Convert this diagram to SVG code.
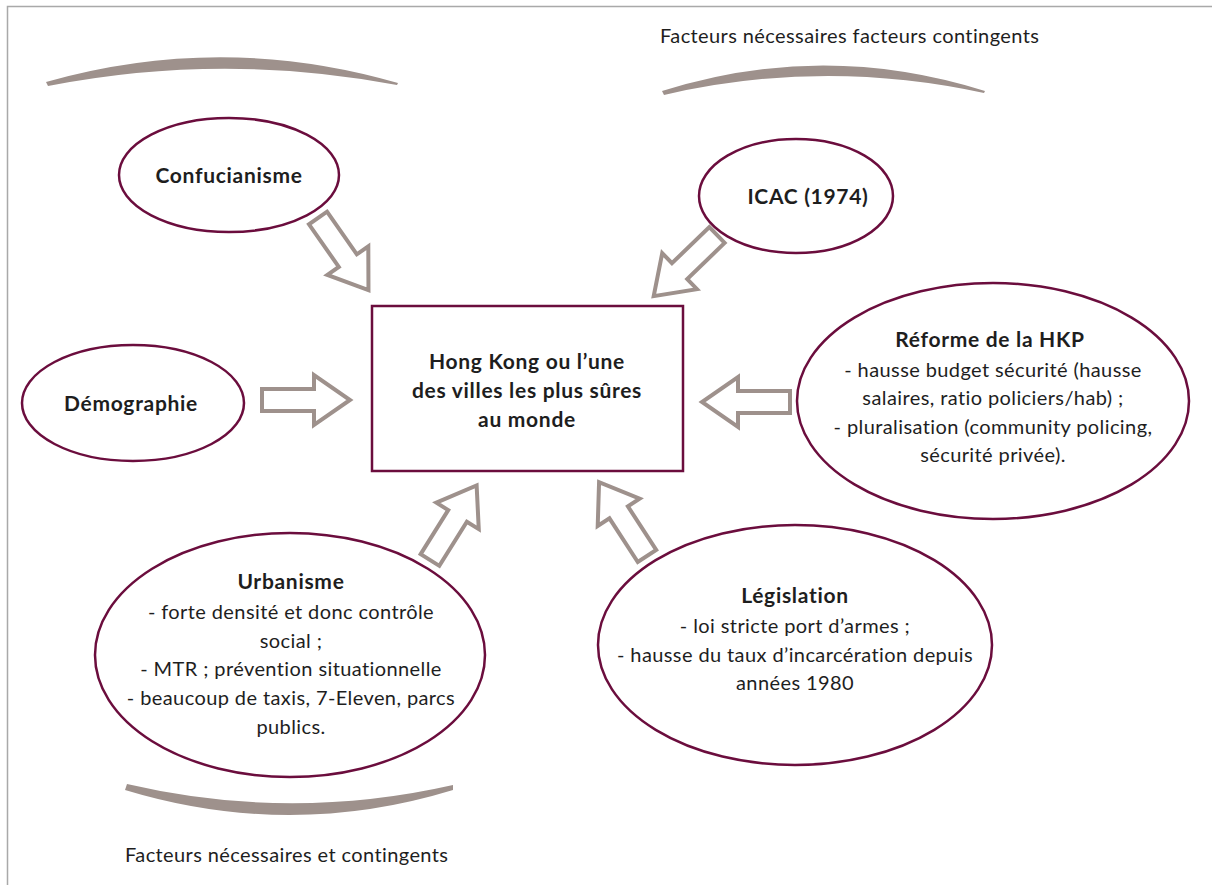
<svg xmlns="http://www.w3.org/2000/svg" width="1212" height="885" viewBox="0 0 1212 885">
  <style>
    .frame { fill: none; stroke: #a9a9a9; stroke-width: 1.5; }
    .bar { fill: #9e918c; }
    .node { fill: #ffffff; stroke: #6b0d3d; stroke-width: 2.5; }
    .arrow { fill: #ffffff; stroke: #9e918c; stroke-width: 4; stroke-linejoin: miter; }
    text { font-family: "Lato", "Noto Sans", "Liberation Sans", sans-serif; font-size: 20px; letter-spacing: 0.4px; fill: #1e1e1e; }
    .c { text-anchor: middle; }
    .b { font-weight: bold; font-size: 21px; letter-spacing: 0.7px; }
  </style>
  <defs>
    <!-- block arrow pointing along +x, tail at origin -->
    <path id="blockArrow" d="M0,-11 L52,-11 L52,-25 L88,0 L52,25 L52,11 L0,11 Z"/>
  </defs>

  <rect width="1212" height="885" fill="#ffffff"/>
  <path class="frame" d="M7.5,885 L7.5,6.5 L1212,6.5"/>

  <!-- grouping bars -->
  <g id="bars">
    <path class="bar" d="M46,82 Q222,32 398,83 L397,85 Q222,52 48,86 Z"/>
    <path class="bar" d="M662,91 Q823,40 985,91 L984,93 Q823,58 664,95 Z"/>
    <path class="bar" d="M127,784 Q290,822 453,785 L453,790 Q290,840 125,790 Z"/>
  </g>

  <text x="660" y="43">Facteurs nécessaires facteurs contingents</text>
  <text x="125" y="862">Facteurs nécessaires et contingents</text>

  <!-- connectors -->
  <g id="connectors">
    <use href="#blockArrow" class="arrow" transform="translate(262,400)"/>
    <use href="#blockArrow" class="arrow" transform="translate(790,402) rotate(180)"/>
    <use href="#blockArrow" class="arrow" transform="translate(318,218) rotate(55)"/>
    <use href="#blockArrow" class="arrow" transform="translate(717,235) rotate(136)"/>
    <use href="#blockArrow" class="arrow" transform="translate(430,560) rotate(-58)"/>
    <use href="#blockArrow" class="arrow" transform="translate(647,556) rotate(-123)"/>
  </g>

  <g id="center">
    <rect class="node" x="372" y="306" width="311" height="165"/>
    <text class="c b" x="527" y="369">Hong Kong ou l’une</text>
    <text class="c b" x="527" y="398">des villes les plus sûres</text>
    <text class="c b" x="527" y="427">au monde</text>
  </g>

  <g id="confucianisme">
    <ellipse class="node" cx="229" cy="175" rx="110" ry="57"/>
    <text class="c b" x="229" y="183">Confucianisme</text>
  </g>

  <g id="icac">
    <ellipse class="node" cx="796" cy="196" rx="97" ry="57"/>
    <text class="c b" x="808" y="204">ICAC (1974)</text>
  </g>

  <g id="demographie">
    <ellipse class="node" cx="133" cy="403" rx="111" ry="58"/>
    <text class="c b" x="131" y="411">Démographie</text>
  </g>

  <g id="reforme">
    <ellipse class="node" cx="993" cy="401" rx="196" ry="118"/>
    <text class="c b" x="990" y="347">Réforme de la HKP</text>
    <text class="c" x="993" y="377">- hausse budget sécurité (hausse</text>
    <text class="c" x="993" y="405">salaires, ratio policiers/hab) ;</text>
    <text class="c" x="993" y="434">- pluralisation (community policing,</text>
    <text class="c" x="993" y="462">sécurité privée).</text>
  </g>

  <g id="urbanisme">
    <ellipse class="node" cx="290" cy="655" rx="195" ry="122"/>
    <text class="c b" x="291" y="589">Urbanisme</text>
    <text class="c" x="291" y="619">- forte densité et donc contrôle</text>
    <text class="c" x="291" y="648">social ;</text>
    <text class="c" x="291" y="676">- MTR ; prévention situationnelle</text>
    <text class="c" x="291" y="705">- beaucoup de taxis, 7-Eleven, parcs</text>
    <text class="c" x="291" y="734">publics.</text>
  </g>

  <g id="legislation">
    <ellipse class="node" cx="795" cy="645" rx="197" ry="120"/>
    <text class="c b" x="795" y="603">Législation</text>
    <text class="c" x="795" y="633">- loi stricte port d’armes ;</text>
    <text class="c" x="795" y="662">- hausse du taux d’incarcération depuis</text>
    <text class="c" x="795" y="690">années 1980</text>
  </g>
</svg>
